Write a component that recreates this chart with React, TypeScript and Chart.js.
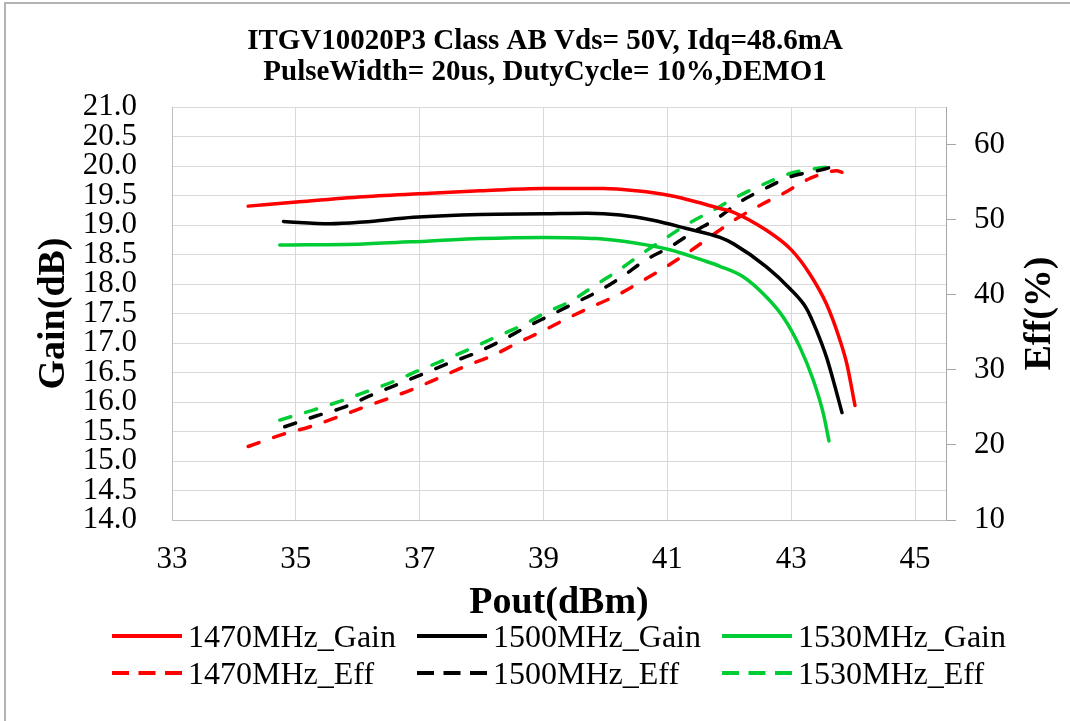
import React, { useEffect, useRef } from 'react';
import { Chart, registerables } from 'chart.js';
Chart.register(...registerables);

const FONT = "'Liberation Serif', 'Times New Roman', Times, serif";

const titleLines = ['ITGV10020P3 Class AB Vds= 50V, Idq=48.6mA', 'PulseWidth= 20us, DutyCycle= 10%,DEMO1'];
const xTitle = 'Pout(dBm)';
const yTitle = 'Gain(dB)';
const y1Title = 'Eff(%)';

const xTicks = [33, 35, 37, 39, 41, 43, 45];
const gainTicks = [14, 14.5, 15, 15.5, 16, 16.5, 17, 17.5, 18, 18.5, 19, 19.5, 20, 20.5, 21];
const effTicks = [10, 20, 30, 40, 50, 60];

const seriesNames = ['1470MHz_Gain', '1500MHz_Gain', '1530MHz_Gain', '1470MHz_Eff', '1500MHz_Eff', '1530MHz_Eff'];
const seriesColors = ['#FF0000', '#000000', '#00CC33', '#FF0000', '#000000', '#00CC33'];

const gain1470X = [34.23, 35.01, 36.09, 37.17, 37.97, 39.0, 39.97, 40.5, 41.04, 41.58, 41.85, 42.06, 42.6, 43.01, 43.3, 43.57, 43.79, 43.9, 44.03];
const gain1470Y = [19.32, 19.39, 19.48, 19.54, 19.58, 19.62, 19.62, 19.58, 19.5, 19.36, 19.28, 19.22, 18.91, 18.57, 18.17, 17.66, 17.04, 16.64, 15.94];

const gain1500X = [34.8, 35.55, 36.09, 36.9, 37.97, 39.0, 39.7, 40.24, 40.77, 41.31, 41.85, 42.07, 42.6, 42.98, 43.25, 43.41, 43.57, 43.71, 43.82];
const gain1500Y = [19.06, 19.02, 19.05, 19.13, 19.18, 19.19, 19.2, 19.17, 19.08, 18.94, 18.79, 18.68, 18.29, 17.92, 17.58, 17.21, 16.76, 16.25, 15.82];

const gain1530X = [34.74, 36.09, 37.17, 37.97, 39.0, 39.86, 40.5, 41.04, 41.58, 41.85, 42.23, 42.6, 42.87, 43.14, 43.36, 43.52, 43.61];
const gain1530Y = [18.66, 18.68, 18.73, 18.77, 18.79, 18.77, 18.69, 18.58, 18.4, 18.3, 18.12, 17.78, 17.44, 16.93, 16.36, 15.8, 15.34];

const eff1470X = [34.23, 34.8, 35.23, 35.66, 36.09, 36.47, 36.9, 37.33, 37.76, 38.14, 38.57, 39.0, 39.37, 39.8, 40.18, 40.61, 40.99, 41.37, 41.8, 42.12, 42.5, 42.87, 43.3, 43.73, 43.82];
const eff1470Y = [19.79, 21.44, 22.42, 23.66, 24.99, 26.11, 27.45, 29.0, 30.56, 31.76, 33.54, 35.23, 36.79, 38.47, 39.9, 41.91, 43.77, 45.82, 48.35, 50.14, 51.92, 53.48, 55.48, 56.5, 56.3];

const eff1500X = [34.82, 35.34, 35.77, 36.2, 36.63, 37.03, 37.44, 37.87, 38.3, 38.67, 39.1, 39.48, 39.88, 40.26, 40.64, 41.04, 41.42, 41.8, 42.17, 42.58, 42.98, 43.47, 43.76, 43.84];
const eff1500Y = [22.42, 23.88, 24.99, 26.55, 28.02, 29.36, 30.79, 32.12, 33.8, 35.46, 37.23, 38.79, 40.44, 42.35, 44.58, 46.35, 48.35, 50.14, 52.36, 54.15, 55.7, 56.59, 57.26, 57.4];

const eff1530X = [34.74, 35.28, 35.71, 36.14, 36.57, 36.98, 37.41, 37.87, 38.22, 38.65, 39.05, 39.46, 39.83, 40.21, 40.59, 40.96, 41.34, 41.74, 42.12, 42.58, 42.98, 43.41, 43.56];
const eff1530Y = [23.31, 24.64, 25.79, 27.09, 28.42, 29.89, 31.36, 33.0, 34.34, 35.9, 37.67, 39.24, 41.24, 43.24, 45.47, 47.47, 49.47, 51.25, 53.03, 54.81, 56.15, 56.82, 56.99];

const pts = (xs: number[], ys: number[]) => xs.map((x, i) => ({ x, y: ys[i] }));

const effTitlePlugin = {
  id: 'effTitle',
  afterDraw(chart: any) {
    const ctx = chart.ctx;
    const s = chart.scales.y1;
    ctx.save();
    ctx.translate(s.right - 30, (chart.chartArea.top + chart.chartArea.bottom) / 2);
    ctx.rotate(-Math.PI / 2);
    ctx.font = `bold 38px ${FONT}`;
    ctx.fillStyle = '#000';
    ctx.textAlign = 'center';
    ctx.textBaseline = 'middle';
    ctx.fillText(y1Title, 0, 0);
    ctx.restore();
  },
};

export default function App() {
  const ref = useRef<HTMLCanvasElement>(null);
  useEffect(() => {
    const tickFont = { family: FONT, size: 31, lineHeight: 1 };
    const mk = (i: number, xs: number[], ys: number[], axis: string, dashed: boolean) => ({
      label: seriesNames[i],
      data: pts(xs, ys),
      borderColor: seriesColors[i],
      backgroundColor: seriesColors[i],
      borderWidth: 3.5,
      borderDash: dashed ? [11.5, 15.5] : [],
      borderCapStyle: 'round',
      borderJoinStyle: 'round',
      pointRadius: 0,
      cubicInterpolationMode: 'monotone',
      fill: false,
      yAxisID: axis,
    });
    const chart = new Chart(ref.current as HTMLCanvasElement, {
      type: 'line',
      data: {
        datasets: [
          mk(0, gain1470X, gain1470Y, 'y', false),
          mk(1, gain1500X, gain1500Y, 'y', false),
          mk(2, gain1530X, gain1530Y, 'y', false),
          mk(3, eff1470X, eff1470Y, 'y1', true),
          mk(4, eff1500X, eff1500Y, 'y1', true),
          mk(5, eff1530X, eff1530Y, 'y1', true),
        ] as any,
      },
      options: {
        animation: false,
        responsive: false,
        maintainAspectRatio: false,
        devicePixelRatio: 1,
        layout: { padding: { left: 20, right: 0, top: 0, bottom: 91 } },
        plugins: {
          legend: { display: false },
          tooltip: { enabled: false },
          title: {
            display: true,
            text: titleLines,
            color: '#000',
            font: { family: FONT, size: 29, weight: 'bold', lineHeight: 31 / 29 },
            padding: { top: 26, bottom: 19 },
          },
        },
        scales: {
          x: {
            type: 'linear',
            min: 33,
            max: 45.5,
            afterBuildTicks: (s: any) => { s.ticks = xTicks.map((v) => ({ value: v })); },
            afterFit: (s: any) => { s.height = 110; },
            grid: { color: '#d9d9d9', lineWidth: 1, drawTicks: false },
            border: { color: '#bfbfbf', width: 1 },
            ticks: { font: tickFont, color: '#000', padding: 24, maxRotation: 0, autoSkip: false },
            title: {
              display: true,
              text: xTitle,
              color: '#000',
              font: { family: FONT, size: 38, weight: 'bold', lineHeight: 1 },
              padding: { top: 0, bottom: 8 },
            },
          },
          y: {
            type: 'linear',
            position: 'left',
            min: 14,
            max: 21,
            afterBuildTicks: (s: any) => { s.ticks = gainTicks.map((v) => ({ value: v })); },
            afterFit: (s: any) => { s.width = 152; },
            grid: { color: '#d9d9d9', lineWidth: 1, drawTicks: false },
            border: { color: '#bfbfbf', width: 1 },
            ticks: {
              font: tickFont,
              color: '#000',
              padding: 35,
              autoSkip: false,
              callback: (v: any) => Number(v).toFixed(1),
            },
            title: {
              display: true,
              text: yTitle,
              color: '#000',
              font: { family: FONT, size: 38, weight: 'bold', lineHeight: 1 },
              padding: { top: 15, bottom: 0 },
            },
          },
          y1: {
            type: 'linear',
            position: 'right',
            min: 10,
            max: 65,
            afterBuildTicks: (s: any) => { s.ticks = effTicks.map((v) => ({ value: v })); },
            afterFit: (s: any) => { s.width = 124; },
            grid: { drawOnChartArea: false, drawTicks: true, tickLength: 10, color: '#a6a6a6', lineWidth: 1 },
            border: { color: '#a6a6a6', width: 1 },
            ticks: { font: tickFont, color: '#000', padding: 18, autoSkip: false },
          },
        },
      } as any,
      plugins: [effTitlePlugin],
    });
    return () => chart.destroy();
  }, []);

  const rowsY = [636, 673];
  const colsX = [112, 417, 722];

  return (
    <div style={{ position: 'absolute', left: 0, top: 0, width: 1070, height: 721, background: '#fff', overflow: 'hidden' }}>
      <canvas ref={ref} width={1070} height={721} style={{ position: 'absolute', left: 0, top: 0, width: 1070, height: 721 }} />
      <div style={{ position: 'absolute', left: 4, top: 2, width: 1100, height: 760, borderTop: '2px solid #b3b3b3', borderLeft: '2px solid #b3b3b3', pointerEvents: 'none' }} />
      {seriesNames.map((name, i) => {
        const row = i < 3 ? 0 : 1;
        const col = i % 3;
        const dashed = row === 1;
        return (
          <div
            key={name}
            style={{
              position: 'absolute',
              left: colsX[col],
              top: rowsY[row] - 20,
              height: 40,
              display: 'flex',
              alignItems: 'center',
              whiteSpace: 'nowrap',
            }}
          >
            <svg width={70} height={8} style={{ display: 'block' }}>
              <line
                x1={0}
                y1={4}
                x2={70}
                y2={4}
                stroke={seriesColors[i]}
                strokeWidth={4}
                strokeDasharray={dashed ? '17 9.5' : undefined}
              />
            </svg>
            <span style={{ marginLeft: 6, fontFamily: FONT, fontSize: 32, lineHeight: 1, color: '#000' }}>{name}</span>
          </div>
        );
      })}
    </div>
  );
}
